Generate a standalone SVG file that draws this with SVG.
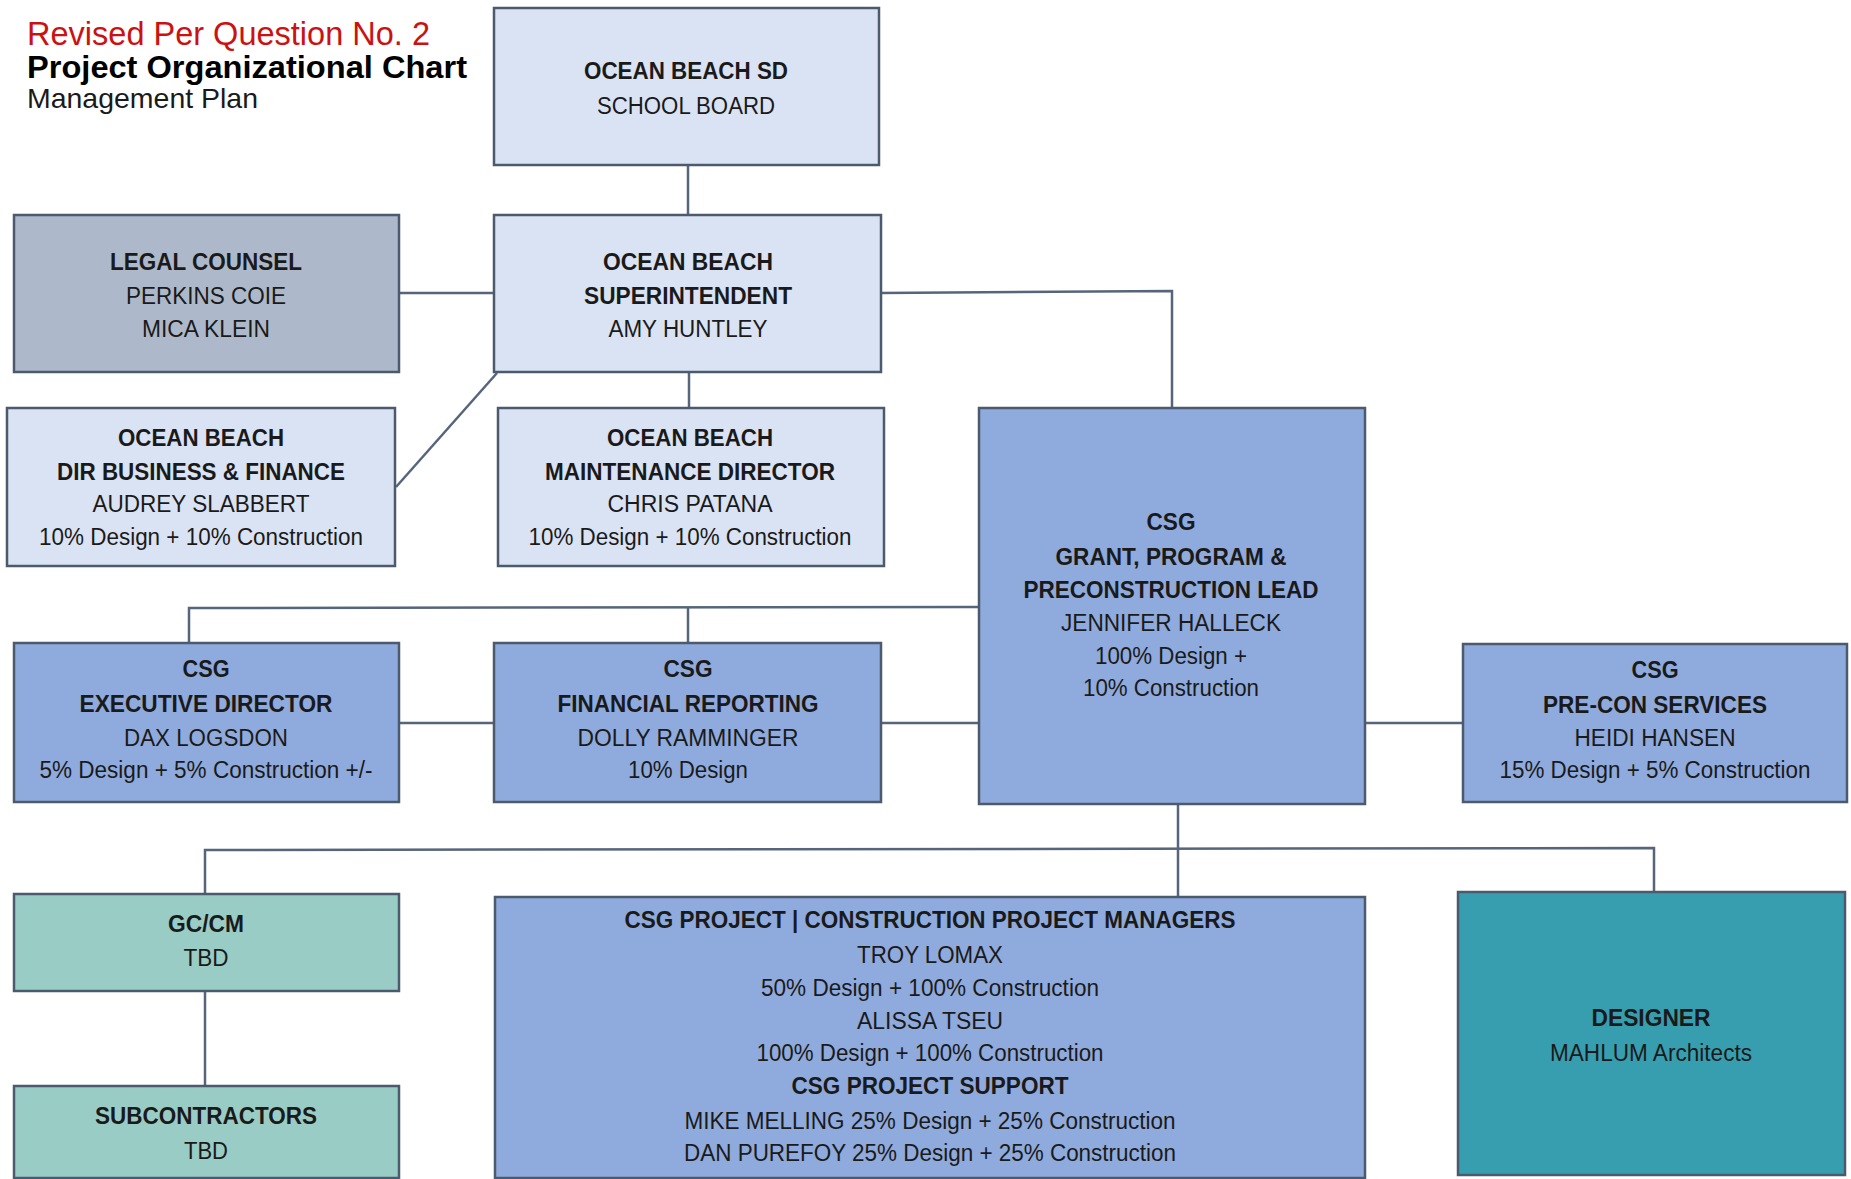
<svg xmlns="http://www.w3.org/2000/svg" width="1851" height="1179" viewBox="0 0 1851 1179">
<style>
.box{stroke:#4c5a6e;stroke-width:2.5}
.lt{fill:#dae3f3}
.gr{fill:#adb9ca}
.bl{fill:#8faadc}
.tl{fill:#99ccc5}
.tk{fill:#379eb0}
.con{fill:none;stroke:#56657b;stroke-width:2.5}
text{font-family:"Liberation Sans",Arial,sans-serif;font-size:23px;fill:#1a1a1a;text-anchor:middle}
.b{font-weight:bold}
.t{text-anchor:start}
</style>
<rect width="1851" height="1179" fill="#ffffff"/>
<g id="title">
<text class="t" x="27" y="45" style="font-size:33px;fill:#cc1111" textLength="403" lengthAdjust="spacingAndGlyphs">Revised Per Question No. 2</text>
<text class="t b" x="27" y="78" style="font-size:31px;fill:#000" textLength="440" lengthAdjust="spacingAndGlyphs">Project Organizational Chart</text>
<text class="t" x="27" y="108" style="font-size:28px" textLength="231" lengthAdjust="spacingAndGlyphs">Management Plan</text>
</g>
<g id="connectors">
<line class="con" x1="688" y1="165" x2="688" y2="215"/>
<line class="con" x1="399" y1="293" x2="494" y2="293"/>
<polyline class="con" points="881,293 1172,291 1172,408"/>
<line class="con" x1="689" y1="372" x2="689" y2="408"/>
<line class="con" x1="497" y1="373" x2="396" y2="487"/>
<polyline class="con" points="979,607 189,608 189,643"/>
<line class="con" x1="688" y1="608" x2="688" y2="643"/>
<line class="con" x1="399" y1="723" x2="494" y2="723"/>
<line class="con" x1="881" y1="723" x2="979" y2="723"/>
<line class="con" x1="1365" y1="723" x2="1463" y2="723"/>
<line class="con" x1="1178" y1="804" x2="1178" y2="897"/>
<polyline class="con" points="205,894 205,850 1654,848 1654,892"/>
<line class="con" x1="205" y1="991" x2="205" y2="1086"/>
</g>
<g id="school-board">
<rect class="box lt" x="494" y="8" width="385" height="157"/>
<text class="b" x="686" y="79" textLength="204" lengthAdjust="spacingAndGlyphs">OCEAN BEACH SD</text>
<text x="686" y="114" textLength="178" lengthAdjust="spacingAndGlyphs">SCHOOL BOARD</text>
</g>
<g id="legal-counsel">
<rect class="box gr" x="14" y="215" width="385" height="157"/>
<text class="b" x="206" y="270" textLength="192" lengthAdjust="spacingAndGlyphs">LEGAL COUNSEL</text>
<text x="206" y="304" textLength="160" lengthAdjust="spacingAndGlyphs">PERKINS COIE</text>
<text x="206" y="337" textLength="128" lengthAdjust="spacingAndGlyphs">MICA KLEIN</text>
</g>
<g id="superintendent">
<rect class="box lt" x="494" y="215" width="387" height="157"/>
<text class="b" x="688" y="270" textLength="170" lengthAdjust="spacingAndGlyphs">OCEAN BEACH</text>
<text class="b" x="688" y="304" textLength="208" lengthAdjust="spacingAndGlyphs">SUPERINTENDENT</text>
<text x="688" y="337" textLength="159" lengthAdjust="spacingAndGlyphs">AMY HUNTLEY</text>
</g>
<g id="dir-business">
<rect class="box lt" x="7" y="408" width="388" height="158"/>
<text class="b" x="201" y="446" textLength="166" lengthAdjust="spacingAndGlyphs">OCEAN BEACH</text>
<text class="b" x="201" y="480" textLength="288" lengthAdjust="spacingAndGlyphs">DIR BUSINESS &amp; FINANCE</text>
<text x="201" y="512" textLength="217" lengthAdjust="spacingAndGlyphs">AUDREY SLABBERT</text>
<text x="201" y="545" textLength="324" lengthAdjust="spacingAndGlyphs">10% Design + 10% Construction</text>
</g>
<g id="maintenance">
<rect class="box lt" x="498" y="408" width="386" height="158"/>
<text class="b" x="690" y="446" textLength="166" lengthAdjust="spacingAndGlyphs">OCEAN BEACH</text>
<text class="b" x="690" y="480" textLength="290" lengthAdjust="spacingAndGlyphs">MAINTENANCE DIRECTOR</text>
<text x="690" y="512" textLength="165" lengthAdjust="spacingAndGlyphs">CHRIS PATANA</text>
<text x="690" y="545" textLength="323" lengthAdjust="spacingAndGlyphs">10% Design + 10% Construction</text>
</g>
<g id="grant-lead">
<rect class="box bl" x="979" y="408" width="386" height="396"/>
<text class="b" x="1171" y="530" textLength="49" lengthAdjust="spacingAndGlyphs">CSG</text>
<text class="b" x="1171" y="565" textLength="231" lengthAdjust="spacingAndGlyphs">GRANT, PROGRAM &amp;</text>
<text class="b" x="1171" y="598" textLength="295" lengthAdjust="spacingAndGlyphs">PRECONSTRUCTION LEAD</text>
<text x="1171" y="631" textLength="220" lengthAdjust="spacingAndGlyphs">JENNIFER HALLECK</text>
<text x="1171" y="664" textLength="152" lengthAdjust="spacingAndGlyphs">100% Design +</text>
<text x="1171" y="696" textLength="176" lengthAdjust="spacingAndGlyphs">10% Construction</text>
</g>
<g id="executive-director">
<rect class="box bl" x="14" y="643" width="385" height="159"/>
<text class="b" x="206" y="677" textLength="47" lengthAdjust="spacingAndGlyphs">CSG</text>
<text class="b" x="206" y="712" textLength="253" lengthAdjust="spacingAndGlyphs">EXECUTIVE DIRECTOR</text>
<text x="206" y="746" textLength="164" lengthAdjust="spacingAndGlyphs">DAX LOGSDON</text>
<text x="206" y="778" textLength="333" lengthAdjust="spacingAndGlyphs">5% Design + 5% Construction +/-</text>
</g>
<g id="financial-reporting">
<rect class="box bl" x="494" y="643" width="387" height="159"/>
<text class="b" x="688" y="677" textLength="49" lengthAdjust="spacingAndGlyphs">CSG</text>
<text class="b" x="688" y="712" textLength="261" lengthAdjust="spacingAndGlyphs">FINANCIAL REPORTING</text>
<text x="688" y="746" textLength="221" lengthAdjust="spacingAndGlyphs">DOLLY RAMMINGER</text>
<text x="688" y="778" textLength="120" lengthAdjust="spacingAndGlyphs">10% Design</text>
</g>
<g id="pre-con">
<rect class="box bl" x="1463" y="644" width="384" height="158"/>
<text class="b" x="1655" y="678" textLength="47" lengthAdjust="spacingAndGlyphs">CSG</text>
<text class="b" x="1655" y="713" textLength="224" lengthAdjust="spacingAndGlyphs">PRE-CON SERVICES</text>
<text x="1655" y="746" textLength="161" lengthAdjust="spacingAndGlyphs">HEIDI HANSEN</text>
<text x="1655" y="778" textLength="311" lengthAdjust="spacingAndGlyphs">15% Design + 5% Construction</text>
</g>
<g id="gc-cm">
<rect class="box tl" x="14" y="894" width="385" height="97"/>
<text class="b" x="206" y="932" textLength="76" lengthAdjust="spacingAndGlyphs">GC/CM</text>
<text x="206" y="966" textLength="45" lengthAdjust="spacingAndGlyphs">TBD</text>
</g>
<g id="subcontractors">
<rect class="box tl" x="14" y="1086" width="385" height="92"/>
<text class="b" x="206" y="1124" textLength="222" lengthAdjust="spacingAndGlyphs">SUBCONTRACTORS</text>
<text x="206" y="1159" textLength="44" lengthAdjust="spacingAndGlyphs">TBD</text>
</g>
<g id="project-managers">
<rect class="box bl" x="495" y="897" width="870" height="281"/>
<text class="b" x="930" y="928" textLength="611" lengthAdjust="spacingAndGlyphs">CSG PROJECT | CONSTRUCTION PROJECT MANAGERS</text>
<text x="930" y="963" textLength="146" lengthAdjust="spacingAndGlyphs">TROY LOMAX</text>
<text x="930" y="996" textLength="338" lengthAdjust="spacingAndGlyphs">50% Design + 100% Construction</text>
<text x="930" y="1029" textLength="146" lengthAdjust="spacingAndGlyphs">ALISSA TSEU</text>
<text x="930" y="1061" textLength="347" lengthAdjust="spacingAndGlyphs">100% Design + 100% Construction</text>
<text class="b" x="930" y="1094" textLength="277" lengthAdjust="spacingAndGlyphs">CSG PROJECT SUPPORT</text>
<text x="930" y="1129" textLength="491" lengthAdjust="spacingAndGlyphs">MIKE MELLING 25% Design + 25% Construction</text>
<text x="930" y="1161" textLength="492" lengthAdjust="spacingAndGlyphs">DAN PUREFOY 25% Design + 25% Construction</text>
</g>
<g id="designer">
<rect class="box tk" x="1458" y="892" width="387" height="283"/>
<text class="b" x="1651" y="1026" textLength="119" lengthAdjust="spacingAndGlyphs">DESIGNER</text>
<text x="1651" y="1061" textLength="202" lengthAdjust="spacingAndGlyphs">MAHLUM Architects</text>
</g>
</svg>
